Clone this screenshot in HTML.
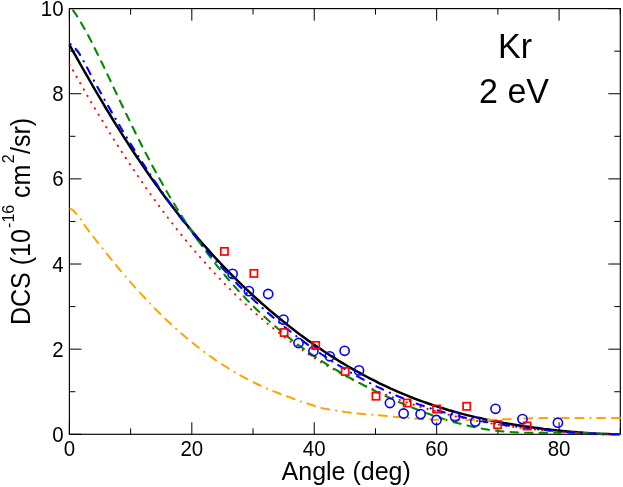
<!DOCTYPE html>
<html><head><meta charset="utf-8"><title>Kr 2 eV DCS</title>
<style>html,body{margin:0;padding:0;background:#fff}svg{display:block}text{font-family:"Liberation Sans",sans-serif;fill:#000}</style></head>
<body>
<svg width="623" height="487" viewBox="0 0 623 487">
<rect x="0" y="0" width="623" height="487" fill="#ffffff"/>
<defs><clipPath id="pa"><rect x="68.4" y="7.8" width="552.90" height="427.90"/></clipPath></defs>
<path d="M69.40,434.3 v-12 M69.40,8.6 v12 M130.61,434.3 v-6 M130.61,8.6 v6 M191.82,434.3 v-12 M191.82,8.6 v12 M253.03,434.3 v-6 M253.03,8.6 v6 M314.24,434.3 v-12 M314.24,8.6 v12 M375.46,434.3 v-6 M375.46,8.6 v6 M436.67,434.3 v-12 M436.67,8.6 v12 M497.88,434.3 v-6 M497.88,8.6 v6 M559.09,434.3 v-12 M559.09,8.6 v12 M620.30,434.3 v-6 M620.30,8.6 v6 M69.4,434.30 h12 M620.3,434.30 h-12 M69.4,391.73 h6 M620.3,391.73 h-6 M69.4,349.16 h12 M620.3,349.16 h-12 M69.4,306.59 h6 M620.3,306.59 h-6 M69.4,264.02 h12 M620.3,264.02 h-12 M69.4,221.45 h6 M620.3,221.45 h-6 M69.4,178.88 h12 M620.3,178.88 h-12 M69.4,136.31 h6 M620.3,136.31 h-6 M69.4,93.74 h12 M620.3,93.74 h-12 M69.4,51.17 h6 M620.3,51.17 h-6 M69.4,8.60 h12 M620.3,8.60 h-12" stroke="#000" stroke-width="1.0" fill="none"/>
<rect x="69.4" y="8.6" width="550.90" height="425.70" fill="none" stroke="#000" stroke-width="1.15"/>
<g clip-path="url(#pa)" fill="none">
<path d="M69.4,44.8 72.5,50.3 75.5,55.7 78.6,61.1 81.6,66.5 84.7,71.9 87.8,77.2 90.8,82.5 93.9,87.8 96.9,93.0 100.0,98.2 103.1,103.4 106.1,108.5 109.2,113.5 112.2,118.5 115.3,123.5 118.4,128.4 121.4,133.2 124.5,138.1 127.6,142.8 130.6,147.5 133.7,152.2 136.7,156.8 139.8,161.4 142.9,165.9 145.9,170.3 149.0,174.7 152.0,179.1 155.1,183.4 158.2,187.6 161.2,191.8 164.3,195.9 167.3,200.0 170.4,204.1 173.5,208.1 176.5,212.0 179.6,215.9 182.6,219.7 185.7,223.5 188.8,227.3 191.8,231.0 194.9,234.6 197.9,238.2 201.0,241.8 204.1,245.3 207.1,248.7 210.2,252.1 213.2,255.5 216.3,258.8 219.4,262.1 222.4,265.4 225.5,268.6 228.5,271.7 231.6,274.8 234.7,277.9 237.7,280.9 240.8,283.9 243.9,286.9 246.9,289.8 250.0,292.6 253.0,295.5 256.1,298.3 259.2,301.0 262.2,303.8 265.3,306.4 268.3,309.1 271.4,311.7 274.5,314.3 277.5,316.8 280.6,319.3 283.6,321.8 286.7,324.2 289.8,326.7 292.8,329.0 295.9,331.4 298.9,333.7 302.0,335.9 305.1,338.2 308.1,340.4 311.2,342.6 314.2,344.7 317.3,346.8 320.4,348.9 323.4,351.0 326.5,353.0 329.5,355.0 332.6,356.9 335.7,358.9 338.7,360.8 341.8,362.6 344.9,364.5 347.9,366.3 351.0,368.1 354.0,369.8 357.1,371.5 360.2,373.2 363.2,374.9 366.3,376.5 369.3,378.1 372.4,379.7 375.5,381.2 378.5,382.8 381.6,384.3 384.6,385.7 387.7,387.1 390.8,388.6 393.8,389.9 396.9,391.3 399.9,392.6 403.0,393.9 406.1,395.2 409.1,396.4 412.2,397.6 415.2,398.8 418.3,400.0 421.4,401.1 424.4,402.2 427.5,403.3 430.5,404.3 433.6,405.4 436.7,406.4 439.7,407.4 442.8,408.3 445.8,409.2 448.9,410.2 452.0,411.0 455.0,411.9 458.1,412.8 461.2,413.6 464.2,414.4 467.3,415.1 470.3,415.9 473.4,416.6 476.5,417.4 479.5,418.0 482.6,418.7 485.6,419.4 488.7,420.0 491.8,420.6 494.8,421.2 497.9,421.8 500.9,422.4 504.0,423.0 507.1,423.5 510.1,424.0 513.2,424.5 516.2,425.0 519.3,425.5 522.4,426.0 525.4,426.4 528.5,426.8 531.5,427.3 534.6,427.7 537.7,428.1 540.7,428.5 543.8,428.9 546.8,429.2 549.9,429.6 553.0,429.9 556.0,430.3 559.1,430.6 562.1,430.9 565.2,431.2 568.3,431.5 571.3,431.8 574.4,432.0 577.5,432.3 580.5,432.5 583.6,432.8 586.6,433.0 589.7,433.2 592.8,433.4 595.8,433.6 598.9,433.7 601.9,433.9 605.0,434.0 608.1,434.1 611.1,434.2 614.2,434.2 617.2,434.3 620.3,434.3" stroke="#000000" stroke-width="2.5" stroke-linejoin="round"/>
<path d="M69.4,64.0 72.5,69.5 75.5,74.9 78.6,80.3 81.6,85.7 84.7,91.0 87.8,96.3 90.8,101.5 93.9,106.7 96.9,111.9 100.0,117.0 103.1,122.0 106.1,127.0 109.2,132.0 112.2,136.9 115.3,141.8 118.4,146.6 121.4,151.3 124.5,156.0 127.6,160.7 130.6,165.3 133.7,169.9 136.7,174.4 139.8,178.9 142.9,183.3 145.9,187.7 149.0,192.0 152.0,196.3 155.1,200.5 158.2,204.7 161.2,208.9 164.3,212.9 167.3,217.0 170.4,221.0 173.5,224.9 176.5,228.8 179.6,232.6 182.6,236.4 185.7,240.2 188.8,243.9 191.8,247.6 194.9,251.2 197.9,254.7 201.0,258.2 204.1,261.7 207.1,265.1 210.2,268.5 213.2,271.8 216.3,275.1 219.4,278.4 222.4,281.6 225.5,284.7 228.5,287.8 231.6,290.9 234.7,293.9 237.7,296.9 240.8,299.8 243.9,302.7 246.9,305.5 250.0,308.3 253.0,311.1 256.1,313.8 259.2,316.5 262.2,319.1 265.3,321.7 268.3,324.3 271.4,326.8 274.5,329.2 277.5,331.7 280.6,334.0 283.6,336.4 286.7,338.7 289.8,341.0 292.8,343.2 295.9,345.4 298.9,347.6 302.0,349.7 305.1,351.8 308.1,353.8 311.2,355.8 314.2,357.8 317.3,359.8 320.4,361.7 323.4,363.5 326.5,365.4 329.5,367.2 332.6,368.9 335.7,370.7 338.7,372.4 341.8,374.0 344.9,375.7 347.9,377.3 351.0,378.8 354.0,380.4 357.1,381.9 360.2,383.4 363.2,384.8 366.3,386.3 369.3,387.6 372.4,389.0 375.5,390.3 378.5,391.6 381.6,392.9 384.6,394.2 387.7,395.4 390.8,396.6 393.8,397.8 396.9,398.9 399.9,400.0 403.0,401.1 406.1,402.2 409.1,403.2 412.2,404.3 415.2,405.3 418.3,406.2 421.4,407.2 424.4,408.1 427.5,409.0 430.5,409.9 433.6,410.8 436.7,411.6 439.7,412.4 442.8,413.2 445.8,414.0 448.9,414.8 452.0,415.5 455.0,416.3 458.1,417.0 461.2,417.7 464.2,418.3 467.3,419.0 470.3,419.6 473.4,420.2 476.5,420.8 479.5,421.4 482.6,422.0 485.6,422.5 488.7,423.1 491.8,423.6 494.8,424.1 497.9,424.6 500.9,425.1 504.0,425.6 507.1,426.0 510.1,426.4 513.2,426.9 516.2,427.3 519.3,427.7 522.4,428.1 525.4,428.4 528.5,428.8 531.5,429.2 534.6,429.5 537.7,429.8 540.7,430.1 543.8,430.4 546.8,430.7 549.9,431.0 553.0,431.3 556.0,431.5 559.1,431.8 562.1,432.0 565.2,432.2 568.3,432.4 571.3,432.7 574.4,432.8 577.5,433.0 580.5,433.2 583.6,433.3 586.6,433.5 589.7,433.6 592.8,433.8 595.8,433.9 598.9,434.0 601.9,434.1 605.0,434.1 608.1,434.2 611.1,434.2 614.2,434.3 617.2,434.3 620.3,434.3" stroke="#ff0000" stroke-width="2.0" stroke-dasharray="0.25,7.05" stroke-dashoffset="0.00" stroke-linecap="round" stroke-linejoin="round"/>
<path d="M69.4,5.5 72.5,9.4 75.5,13.8 78.6,18.6 81.6,23.7 84.7,29.1 87.8,34.7 90.8,40.5 93.9,46.5 96.9,52.7 100.0,58.9 103.1,65.3 106.1,71.7 109.2,78.1 112.2,84.6 115.3,91.1 118.4,97.5 121.4,104.0 124.5,110.4 127.6,116.7 130.6,123.0 133.7,129.3 136.7,135.4 139.8,141.5 142.9,147.6 145.9,153.5 149.0,159.3 152.0,165.1 155.1,170.8 158.2,176.3 161.2,181.8 164.3,187.2 167.3,192.5 170.4,197.7 173.5,202.8 176.5,207.8 179.6,212.7 182.6,217.5 185.7,222.2 188.8,226.9 191.8,231.4 194.9,235.9 197.9,240.3 201.0,244.5 204.1,248.7 207.1,252.9 210.2,256.9 213.2,260.9 216.3,264.8 219.4,268.6 222.4,272.3 225.5,276.0 228.5,279.6 231.6,283.1 234.7,286.5 237.7,289.9 240.8,293.2 243.9,296.5 246.9,299.7 250.0,302.8 253.0,305.9 256.1,308.9 259.2,311.8 262.2,314.7 265.3,317.5 268.3,320.3 271.4,323.0 274.5,325.7 277.5,328.3 280.6,330.9 283.6,333.4 286.7,335.9 289.8,338.3 292.8,340.7 295.9,343.0 298.9,345.3 302.0,347.5 305.1,349.8 308.1,351.9 311.2,354.0 314.2,356.1 317.3,358.2 320.4,360.2 323.4,362.2 326.5,364.1 329.5,366.0 332.6,367.9 335.7,369.7 338.7,371.5 341.8,373.3 344.9,375.1 347.9,376.8 351.0,378.5 354.0,380.2 357.1,381.8 360.2,383.4 363.2,385.0 366.3,386.6 369.3,388.2 372.4,389.7 375.5,391.2 378.5,392.7 381.6,394.2 384.6,395.6 387.7,397.0 390.8,398.4 393.8,399.8 396.9,401.2 399.9,402.5 403.0,403.8 406.1,405.1 409.1,406.4 412.2,407.6 415.2,408.8 418.3,410.0 421.4,411.2 424.4,412.4 427.5,413.5 430.5,414.6 433.6,415.7 436.7,416.7 439.7,417.7 442.8,418.7 445.8,419.7 448.9,420.6 452.0,421.5 455.0,422.4 458.1,423.2 461.2,424.0 464.2,424.8 467.3,425.5 470.3,426.2 473.4,426.9 476.5,427.5 479.5,428.1 482.6,428.7 485.6,429.2 488.7,429.7 491.8,430.1 494.8,430.5 497.9,430.9 500.9,431.2 504.0,431.5 507.1,431.8 510.1,432.0 513.2,432.2 516.2,432.4 519.3,432.6 522.4,432.7 525.4,432.8 528.5,432.8 531.5,432.9 534.6,432.9 537.7,432.9 540.7,432.9 543.8,432.9 546.8,432.9 549.9,432.9 553.0,432.8 556.0,432.8 559.1,432.8 562.1,432.8 565.2,432.7 568.3,432.7 571.3,432.7 574.4,432.8 577.5,432.8 580.5,432.8 583.6,432.9 586.6,433.0 589.7,433.1 592.8,433.2 595.8,433.4 598.9,433.5 601.9,433.7 605.0,433.8 608.1,433.9 611.1,434.1 614.2,434.2 617.2,434.3 620.3,434.3" stroke="#008b00" stroke-width="2.1" stroke-dasharray="7.40,7.14" stroke-dashoffset="8.45" stroke-linecap="round" stroke-linejoin="round"/>
<path d="M69.4,43.7 72.5,45.2 75.5,48.5 78.6,52.5 81.6,57.4 84.7,63.2 87.8,68.9 90.8,74.9 93.9,80.5 96.9,86.1 100.0,91.6 103.1,97.1 106.1,102.5 109.2,107.8 112.2,113.1 115.3,118.4 118.4,123.6 121.4,128.7 124.5,133.8 127.6,138.8 130.6,143.8 133.7,148.7 136.7,153.6 139.8,158.4 142.9,163.2 145.9,167.9 149.0,172.6 152.0,177.2 155.1,181.7 158.2,186.3 161.2,190.7 164.3,195.1 167.3,199.4 170.4,203.7 173.5,208.0 176.5,212.1 179.6,216.3 182.6,220.3 185.7,224.3 188.8,228.3 191.8,232.2 194.9,236.0 197.9,239.8 201.0,243.6 204.1,247.3 207.1,250.9 210.2,254.5 213.2,258.0 216.3,261.5 219.4,264.9 222.4,268.3 225.5,271.6 228.5,274.9 231.6,278.1 234.7,281.3 237.7,284.4 240.8,287.5 243.9,290.5 246.9,293.5 250.0,296.4 253.0,299.3 256.1,302.2 259.2,305.0 262.2,307.8 265.3,310.5 268.3,313.2 271.4,315.9 274.5,318.5 277.5,321.1 280.6,323.6 283.6,326.1 286.7,328.6 289.8,331.0 292.8,333.4 295.9,335.8 298.9,338.1 302.0,340.4 305.1,342.6 308.1,344.9 311.2,347.1 314.2,349.2 317.3,351.4 320.4,353.5 323.4,355.5 326.5,357.5 329.5,359.6 332.6,361.5 335.7,363.5 338.7,365.4 341.8,367.2 344.9,369.1 347.9,370.9 351.0,372.7 354.0,374.4 357.1,376.2 360.2,377.9 363.2,379.5 366.3,381.2 369.3,382.8 372.4,384.3 375.5,385.9 378.5,387.4 381.6,388.8 384.6,390.3 387.7,391.7 390.8,393.1 393.8,394.4 396.9,395.8 399.9,397.1 403.0,398.3 406.1,399.5 409.1,400.7 412.2,401.9 415.2,403.1 418.3,404.2 421.4,405.2 424.4,406.3 427.5,407.3 430.5,408.3 433.6,409.3 436.7,410.2 439.7,411.1 442.8,412.0 445.8,412.9 448.9,413.7 452.0,414.5 455.0,415.3 458.1,416.0 461.2,416.8 464.2,417.5 467.3,418.2 470.3,418.8 473.4,419.5 476.5,420.1 479.5,420.7 482.6,421.3 485.6,421.9 488.7,422.4 491.8,422.9 494.8,423.5 497.9,424.0 500.9,424.4 504.0,424.9 507.1,425.4 510.1,425.8 513.2,426.2 516.2,426.7 519.3,427.1 522.4,427.5 525.4,427.8 528.5,428.2 531.5,428.6 534.6,428.9 537.7,429.3 540.7,429.6 543.8,429.9 546.8,430.2 549.9,430.5 553.0,430.8 556.0,431.1 559.1,431.4 562.1,431.7 565.2,431.9 568.3,432.2 571.3,432.4 574.4,432.6 577.5,432.8 580.5,433.0 583.6,433.2 586.6,433.4 589.7,433.5 592.8,433.7 595.8,433.8 598.9,433.9 601.9,434.0 605.0,434.1 608.1,434.2 611.1,434.2 614.2,434.3 617.2,434.3 620.3,434.3" stroke="#0000ff" stroke-width="2.1" stroke-dasharray="0.25,6.95,7.50,7.20" stroke-dashoffset="-1.05" stroke-linecap="round" stroke-linejoin="round"/>
<path d="M69.4,208.7 72.5,209.7 75.5,213.0 78.6,216.4 81.6,220.3 84.7,225.5 87.8,229.7 90.8,233.6 93.9,237.5 96.9,241.5 100.0,245.3 103.1,249.2 106.1,253.0 109.2,256.8 112.2,260.6 115.3,264.3 118.4,268.0 121.4,271.6 124.5,275.2 127.6,278.7 130.6,282.3 133.7,285.7 136.7,289.1 139.8,292.5 142.9,295.9 145.9,299.1 149.0,302.4 152.0,305.5 155.1,308.7 158.2,311.8 161.2,314.8 164.3,317.8 167.3,320.7 170.4,323.6 173.5,326.4 176.5,329.2 179.6,331.9 182.6,334.6 185.7,337.2 188.8,339.7 191.8,342.3 194.9,344.7 197.9,347.1 201.0,349.5 204.1,351.8 207.1,354.1 210.2,356.3 213.2,358.4 216.3,360.5 219.4,362.6 222.4,364.6 225.5,366.5 228.5,368.4 231.6,370.3 234.7,372.1 237.7,373.9 240.8,375.6 243.9,377.3 246.9,378.9 250.0,380.5 253.0,382.0 256.1,383.5 259.2,385.0 262.2,386.4 265.3,387.8 268.3,389.1 271.4,390.4 274.5,391.6 277.5,392.8 280.6,394.0 283.6,395.2 286.7,396.3 289.8,397.3 292.8,398.5 295.9,399.7 298.9,400.8 302.0,401.9 305.1,402.9 308.1,403.8 311.2,404.7 314.2,405.8 317.3,406.9 320.4,407.8 323.4,408.5 326.5,409.1 329.5,409.5 332.6,410.0 335.7,410.5 338.7,410.9 341.8,411.4 344.9,411.9 347.9,412.3 351.0,412.7 354.0,413.1 357.1,413.4 360.2,413.7 363.2,414.0 366.3,414.2 369.3,414.5 372.4,414.7 375.5,415.0 378.5,415.3 381.6,415.5 384.6,415.8 387.7,416.1 390.8,416.4 393.8,416.7 396.9,416.9 399.9,417.2 403.0,417.5 406.1,417.7 409.1,418.0 412.2,418.2 415.2,418.5 418.3,418.7 421.4,418.9 424.4,419.1 427.5,419.3 430.5,419.5 433.6,419.7 436.7,419.8 439.7,419.9 442.8,419.9 445.8,420.0 448.9,420.0 452.0,420.1 455.0,420.1 458.1,420.1 461.2,420.1 464.2,420.1 467.3,420.1 470.3,420.1 473.4,420.1 476.5,420.0 479.5,420.0 482.6,420.0 485.6,419.9 488.7,419.9 491.8,419.8 494.8,419.7 497.9,419.5 500.9,419.4 504.0,419.3 507.1,419.2 510.1,419.1 513.2,419.0 516.2,418.8 519.3,418.7 522.4,418.6 525.4,418.5 528.5,418.4 531.5,418.3 534.6,418.3 537.7,418.2 540.7,418.1 543.8,418.1 546.8,418.1 549.9,418.0 553.0,418.0 556.0,418.0 559.1,418.0 562.1,417.9 565.2,417.9 568.3,417.9 571.3,417.9 574.4,417.9 577.5,417.9 580.5,417.9 583.6,417.9 586.6,417.9 589.7,417.9 592.8,417.9 595.8,417.9 598.9,417.9 601.9,417.9 605.0,417.9 608.1,417.9 611.1,417.9 614.2,417.9 617.2,417.9 620.3,418.0" stroke="#ffa500" stroke-width="2.0" stroke-dasharray="8.00,6.80,0.25,6.55,8.00,6.80" stroke-dashoffset="-1.00" stroke-linecap="round" stroke-linejoin="round"/>
</g>
<g fill="none" stroke="#0000ff" stroke-width="1.6">
<circle cx="232.6" cy="273.9" r="4.6"/>
<circle cx="248.9" cy="291.1" r="4.6"/>
<circle cx="268.2" cy="294.0" r="4.6"/>
<circle cx="283.5" cy="319.6" r="4.6"/>
<circle cx="298.5" cy="343.0" r="4.6"/>
<circle cx="313.4" cy="351.2" r="4.6"/>
<circle cx="329.7" cy="356.3" r="4.6"/>
<circle cx="344.6" cy="350.8" r="4.6"/>
<circle cx="359.0" cy="370.4" r="4.6"/>
<circle cx="389.9" cy="403.0" r="4.6"/>
<circle cx="403.6" cy="413.5" r="4.6"/>
<circle cx="420.6" cy="414.1" r="4.6"/>
<circle cx="436.5" cy="420.0" r="4.6"/>
<circle cx="455.1" cy="416.6" r="4.6"/>
<circle cx="475.3" cy="421.6" r="4.6"/>
<circle cx="495.5" cy="408.8" r="4.6"/>
<circle cx="522.5" cy="419.1" r="4.6"/>
<circle cx="557.9" cy="422.7" r="4.6"/>
</g>
<g fill="none" stroke="#ff0000" stroke-width="1.7">
<rect x="220.8" y="247.8" width="7.2" height="7.2"/>
<rect x="250.3" y="269.8" width="7.2" height="7.2"/>
<rect x="280.5" y="328.9" width="7.2" height="7.2"/>
<rect x="312.1" y="341.8" width="7.2" height="7.2"/>
<rect x="341.6" y="367.9" width="7.2" height="7.2"/>
<rect x="372.4" y="392.6" width="7.2" height="7.2"/>
<rect x="403.6" y="399.4" width="7.2" height="7.2"/>
<rect x="433.0" y="405.4" width="7.2" height="7.2"/>
<rect x="463.1" y="402.7" width="7.2" height="7.2"/>
<rect x="494.0" y="421.1" width="7.2" height="7.2"/>
<rect x="523.5" y="422.4" width="7.2" height="7.2"/>
</g>
<g style="opacity:0.999">
<text transform="translate(69.4,455.7) scale(1,1.1)" font-size="20.5" text-anchor="middle">0</text>
<text transform="translate(191.82,455.7) scale(1,1.1)" font-size="20.5" text-anchor="middle">20</text>
<text transform="translate(314.24,455.7) scale(1,1.1)" font-size="20.5" text-anchor="middle">40</text>
<text transform="translate(436.67,455.7) scale(1,1.1)" font-size="20.5" text-anchor="middle">60</text>
<text transform="translate(559.09,455.7) scale(1,1.1)" font-size="20.5" text-anchor="middle">80</text>
<text transform="translate(63.6,441.8) scale(1,1.1)" font-size="20.5" text-anchor="end">0</text>
<text transform="translate(63.6,356.66) scale(1,1.1)" font-size="20.5" text-anchor="end">2</text>
<text transform="translate(63.6,271.52) scale(1,1.1)" font-size="20.5" text-anchor="end">4</text>
<text transform="translate(63.6,186.38) scale(1,1.1)" font-size="20.5" text-anchor="end">6</text>
<text transform="translate(63.6,101.24) scale(1,1.1)" font-size="20.5" text-anchor="end">8</text>
<text transform="translate(63.6,16.1) scale(1,1.1)" font-size="20.5" text-anchor="end">10</text>
<text transform="translate(346.2,480.1) scale(1,1.05)" font-size="25.0" text-anchor="middle">Angle (deg)</text>
<text transform="translate(30.3,325.0) rotate(-90) scale(1,1.07)" font-size="25" text-anchor="start">DCS (10<tspan font-size="16" dx="1.3" dy="-14.8">-16</tspan><tspan dx="-0.1" dy="14.8"> cm</tspan><tspan font-size="16" dx="1.4" dy="-14.8">2</tspan><tspan dx="0.3" dy="14.8">/sr)</tspan></text>
<text transform="translate(515.0,58.3) scale(1,1.03)" font-size="34" text-anchor="middle">Kr</text>
<text transform="translate(514,103.3) scale(1,1.03)" font-size="34" text-anchor="middle">2 eV</text>
</g>
</svg>
</body></html>
